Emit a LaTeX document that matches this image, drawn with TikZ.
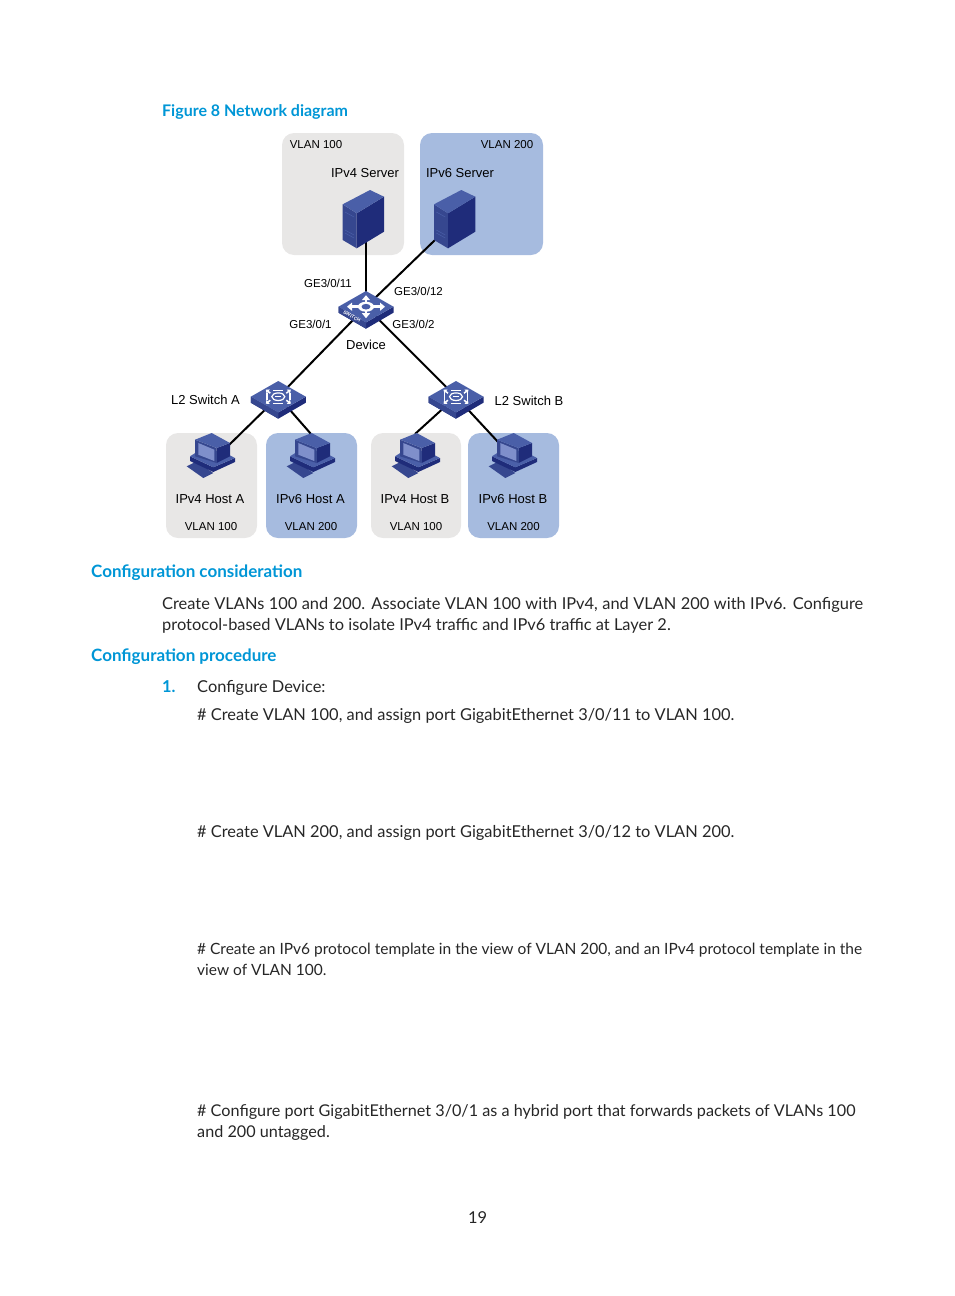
\documentclass[tikz,border=0pt]{standalone}
\usepackage{fontspec}
\usepackage{xcolor}
\setmainfont{Lato}
\newfontfamily\figfont{Liberation Sans}
\usetikzlibrary{arrows.meta,calc}
\definecolor{hpblue}{HTML}{0096D6}
\definecolor{boxgrey}{HTML}{E8E7E6}
\definecolor{boxblue}{HTML}{A6BBDF}
\definecolor{icontop}{HTML}{4A5FA8}
\definecolor{iconleft}{HTML}{36478F}
\definecolor{iconright}{HTML}{1F2C7A}
\definecolor{iconscreen}{HTML}{7F8FCB}
\tikzset{
  vlanbox/.style={rounded corners=12pt},
  figlabel/.style={inner sep=0pt,font=\figfont\fontsize{13}{15}\selectfont},
  figsmall/.style={inner sep=0pt,font=\figfont\fontsize{11.5}{13}\selectfont},
  heading/.style={inner sep=0pt,anchor=base west,text=hpblue,font=\bfseries\fontsize{17}{20}\selectfont},
  body/.style={inner sep=0pt,anchor=base west,text=black!85,font=\fontsize{16.4}{21}\selectfont},
  para/.style={inner sep=0pt,anchor=north west,text=black!85,font=\fontsize{16.4}{21}\selectfont},
  link/.style={line width=2pt,black},
  pics/servericon/.style={code={
    \fill[iconleft] (-20.3,-15.7) -- (-6.3,-6.7) -- (-6.3,28.3) -- (-20.3,20) -- cycle;
    \fill[iconright] (-6.3,-6.7) -- (21,-23.3) -- (21,11.7) -- (-6.3,28.3) -- cycle;
    \fill[icontop] (-20.3,-15.7) -- (7,-30) -- (21,-23.3) -- (-6.3,-6.7) -- cycle;
    \draw[icontop,line width=0.5pt] (-18,-8) -- (-9,-3) (-18,10) -- (-9,15) (-18,13) -- (-9,18);
  }},
  pics/boxbody/.style={code={
    \fill[iconright] (-27.5,0) -- (0,15.7) -- (27.5,0) -- (27.5,6) -- (0,22) -- (-27.5,6) -- cycle;
    \fill[iconleft] (-27.5,0) -- (0,15.7) -- (0,22) -- (-27.5,6) -- cycle;
    \fill[icontop] (-27.5,0) -- (0,-15.7) -- (27.5,0) -- (0,15.7) -- cycle;
  }},
  pics/deviceicon/.style={code={
    \pic {boxbody};
    \foreach \tipx/\tipy in {0/-11.5,-19/0,19/0,0/11.5}
      \draw[white,line width=2.6pt,-{Triangle[width=8pt,length=5pt]}] (0,0) -- (\tipx,\tipy);
    \fill[white] (0,0) ellipse (8 and 5);
    \fill[icontop] (0,0) ellipse (4.5 and 2.8);
    \node[white,inner sep=0pt,rotate=-29,font=\figfont\bfseries\fontsize{4.8}{5}\selectfont] (swtext) at (-14,9.8) {SWITCH};
  }},
  pics/hubicon/.style={code={
    \pic {boxbody};
    \draw[white,line width=1.2pt] (0,0) ellipse (6.5 and 3.8);
    \fill[white] (-3,-0.6) rectangle (3,0.6);
    \foreach \sx in {-1,1}
      \foreach \sy in {-1,1}
        \draw[white,line width=1.5pt,-{Triangle[width=5pt,length=3pt]}] (\sx*8,\sy*3.5) -- (\sx*12.5,\sy*7);
    \foreach \sx in {-1,1}
      \draw[white,line width=1.5pt] (\sx*11.5,-3.5) -- (\sx*11.5,3.5);
    \foreach \sy in {-1,1}
      \draw[white,line width=1.2pt] (-5,\sy*6.5) -- (5,\sy*6.5);
  }},
  pics/hosticon/.style={code={
    % keyboard
    \fill[iconleft] (6.7,38.3) -- (23.3,50) -- (33.3,45) -- (16.7,33.3) -- cycle;
    % base
    \fill[iconright] (10,28.3) -- (33.3,39.3) -- (55,30) -- (55,34) -- (33.3,44) -- (10,33) -- cycle;
    \fill[icontop] (10,28.3) -- (33.3,39.3) -- (55,30) -- (41.7,23.3) -- (20,22) -- cycle;
    % monitor
    \fill[iconright] (36.7,20) -- (50,15) -- (50,28.3) -- (36.7,35) -- cycle;
    \fill[iconleft] (15,11.7) -- (36.7,20) -- (36.7,35) -- (15,28.3) -- cycle;
    \fill[icontop] (15,11.7) -- (31.7,5) -- (50,15) -- (36.7,20) -- cycle;
    \fill[iconscreen] (18.3,15) -- (34.3,21.7) -- (34.3,33) -- (18.3,26.7) -- cycle;
  }}
}
\begin{document}
\begin{tikzpicture}[x=1pt,y=-1pt]
    \useasboundingbox (0,0) rectangle (954,1296);

    % VLAN areas
    \fill[boxgrey,vlanbox] (282,133) rectangle (404,255);
    \fill[boxblue,vlanbox] (420,133) rectangle (543,255);
    \fill[boxgrey,vlanbox] (166,433) rectangle (257,538);
    \fill[boxblue,vlanbox] (266,433) rectangle (357,538);
    \fill[boxgrey,vlanbox] (371,433) rectangle (461,538);
    \fill[boxblue,vlanbox] (468,433) rectangle (559,538);

    % Connection points
    \coordinate (serverfour) at (366,240);
    \coordinate (serversix) at (435,240);
    \coordinate (device) at (366,306.7);
    \coordinate (switcha) at (278.3,396.7);
    \coordinate (switchb) at (456,396.7);
    \coordinate (hostafour) at (229,445);
    \coordinate (hostasix) at (311,434);
    \coordinate (hostbfour) at (415,434);
    \coordinate (hostbsix) at (499,443);

    % Links
    \draw[link] (device) -- (serverfour);
    \draw[link] (device) -- (serversix);
    \draw[link] (device) -- (switcha);
    \draw[link] (device) -- (switchb);
    \draw[link] (switcha) -- (hostafour);
    \draw[link] (switcha) -- (hostasix);
    \draw[link] (switchb) -- (hostbfour);
    \draw[link] (switchb) -- (hostbsix);

    % Icons
    \pic at (363,220) {servericon};
    \pic at (454.3,220) {servericon};
    \pic at (device) {deviceicon};
    \pic at (switcha) {hubicon};
    \pic at (switchb) {hubicon};
    \foreach \hostx in {180,280,385,482}
        \pic at (\hostx,428) {hosticon};

    % Labels
    \node[figsmall] (vlantop) at (316,144.5) {VLAN 100};
    \node[figsmall] (vlantopb) at (507,144.5) {VLAN 200};
    \node[figlabel] (labfour) at (365,173) {IPv4 Server};
    \node[figlabel] (labsix) at (460,173) {IPv6 Server};
    \node[figsmall] (portel) at (328,283.5) {GE3/0/11};
    \node[figsmall] (porttw) at (418.5,291.5) {GE3/0/12};
    \node[figsmall] (portone) at (310.5,324.5) {GE3/0/1};
    \node[figsmall] (porttwo) at (413.5,324.5) {GE3/0/2};
    \node[figlabel] (labdevice) at (366,345) {Device};
    \node[figlabel] (labswa) at (205.5,400) {L2 Switch A};
    \node[figlabel] (labswb) at (529,401) {L2 Switch B};
    \node[figlabel] (labha) at (210,499) {IPv4 Host A};
    \node[figlabel] (labhb) at (310.5,499) {IPv6 Host A};
    \node[figlabel] (labhc) at (415,499) {IPv4 Host B};
    \node[figlabel] (labhd) at (513,499) {IPv6 Host B};
    \node[figsmall] (vlana) at (211,526.5) {VLAN 100};
    \node[figsmall] (vlanb) at (311,526.5) {VLAN 200};
    \node[figsmall] (vlanc) at (416,526.5) {VLAN 100};
    \node[figsmall] (vland) at (513.5,526.5) {VLAN 200};

    % Page text
    \node[heading,font=\bfseries\fontsize{16}{19}\selectfont] (figtitle) at (162,116) {Figure 8 Network diagram};
    \node[heading] (consider) at (91,577) {Configuration consideration};
    \node[para,text width=701pt,align=justify] (consbody) at (162,597) {Create VLANs 100 and 200. Associate VLAN 100 with IPv4, and VLAN 200 with IPv6. Configure \mbox{protocol-based} VLANs to isolate IPv4 traffic and IPv6 traffic at Layer 2.};
    \node[heading] (proc) at (91,661) {Configuration procedure};
    \node[body,text=hpblue,font=\bfseries\fontsize{16.4}{21}\selectfont] (stepnum) at (162,692) {1.};
    \node[body] (stepone) at (197,692) {Configure Device:};
    \node[body] (cmdone) at (197,720) {\# Create VLAN 100, and assign port GigabitEthernet 3/0/11 to VLAN 100.};
    \node[body] (cmdtwo) at (197,837) {\# Create VLAN 200, and assign port GigabitEthernet 3/0/12 to VLAN 200.};
    \node[para,align=left,font=\fontsize{15.5}{21}\selectfont] (cmdthree) at (197,943) {\# Create an IPv6 protocol template in the view of VLAN 200, and an IPv4 protocol template in the\\view of VLAN 100.};
    \node[para,align=left,font=\fontsize{16.2}{21}\selectfont] (cmdfour) at (197,1104) {\# Configure port GigabitEthernet 3/0/1 as a hybrid port that forwards packets of VLANs 100\\and 200 untagged.};
    \node[body] (pagenum) at (468,1223) {19};
\end{tikzpicture}
\end{document}
